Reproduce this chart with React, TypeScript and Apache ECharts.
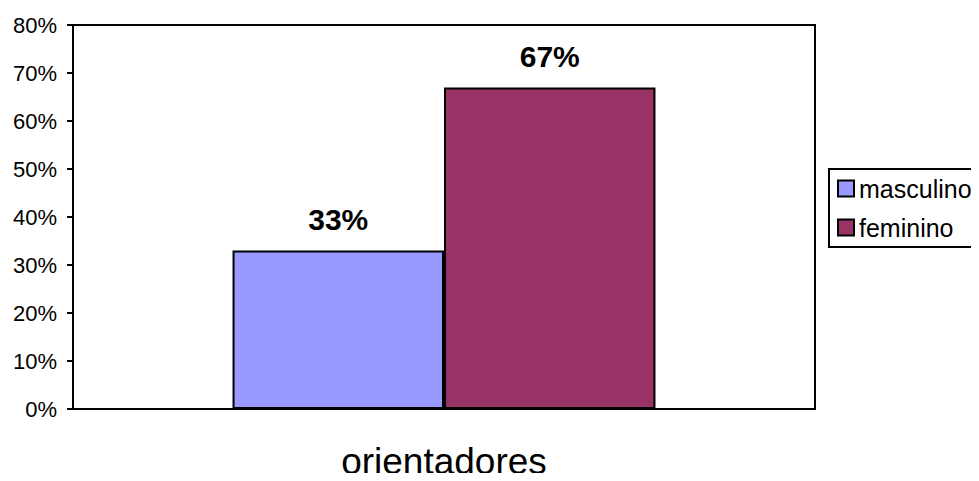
import React, { useEffect, useRef } from "react";
import * as echarts from "echarts";

const categories = ["orientadores"];
const seriesNames = ["masculino", "feminino"];
const masculino = [33];
const feminino = [67];
const colors = ["#9999FF", "#993366"];

export default function App() {
  const ref = useRef<HTMLDivElement>(null);
  useEffect(() => {
    const chart = echarts.init(ref.current!, null, { renderer: "svg" });
    const font = "Arial, 'Liberation Sans', sans-serif";
    const mk = (name: string, data: number[], color: string) => ({
      name,
      type: "bar",
      data,
      barGap: "0%",
      barCategoryGap: "43%",
      itemStyle: { color, borderColor: "#000", borderWidth: 2 },
      label: {
        show: true,
        position: "top",
        distance: 16,
        formatter: (p: any) => p.value + "%",
        fontFamily: font,
        fontWeight: "bold",
        fontSize: 30,
        color: "#000",
      },
    });
    chart.setOption({
      animation: false,
      backgroundColor: "#fff",
      grid: {
        left: 73,
        right: 164,
        top: 25,
        bottom: 72,
        show: true,
        borderColor: "#000",
        borderWidth: 2,
        backgroundColor: "transparent",
      },
      legend: {
        orient: "vertical",
        left: 829,
        top: 169,
        itemWidth: 16,
        itemHeight: 16,
        itemGap: 14,
        padding: [7, 40, 7, 8],
        borderColor: "#000",
        borderWidth: 2,
        textStyle: { fontFamily: font, fontSize: 25, color: "#000" },
        data: seriesNames.map((n) => ({ name: n, icon: "rect" })),
      },
      xAxis: {
        type: "category",
        data: categories,
        axisLine: { lineStyle: { color: "#000", width: 2 } },
        axisTick: { show: false },
        axisLabel: {
          fontFamily: font,
          fontSize: 37,
          lineHeight: 36,
          color: "#000",
          margin: 34,
        },
      },
      yAxis: {
        type: "value",
        min: 0,
        max: 80,
        interval: 10,
        axisLine: { show: true, lineStyle: { color: "#000", width: 2 } },
        axisTick: { show: true, length: 6, inside: false, lineStyle: { color: "#000", width: 2 } },
        splitLine: { show: false },
        axisLabel: {
          formatter: "{value}%",
          fontFamily: font,
          fontSize: 22,
          color: "#000",
          margin: 16,
        },
      },
      series: [mk(seriesNames[0], masculino, colors[0]), mk(seriesNames[1], feminino, colors[1])],
    });
    return () => chart.dispose();
  }, []);
  return <div ref={ref} style={{ width: 979, height: 481, margin: -8 }} />;
}
